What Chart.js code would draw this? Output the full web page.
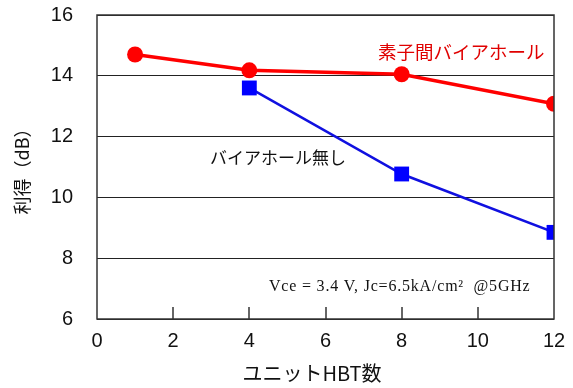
<!DOCTYPE html>
<html><head><meta charset="utf-8">
<script src="https://cdn.jsdelivr.net/npm/chart.js@4"></script>
<style>html,body{margin:0;padding:0;background:#fff}#wrap{width:573px;height:388px}</style>
</head><body><div id="wrap"><canvas id="c" width="573" height="388"></canvas></div>
<script>
const unitCounts = [1, 4, 8, 12];
const viaHoleGain = [14.7, 14.18, 14.05, 13.08];
const noViaUnits = [4, 8, 12];
const noViaGain = [13.6, 10.77, 8.85];
const xTicks = [0, 2, 4, 6, 8, 10, 12];
const yTicks = [6, 8, 10, 12, 14, 16];
const labelVia = '素子間バイアホール';
const labelNoVia = 'バイアホール無し';
const noteText = 'Vce = 3.4 V, Jc=6.5kA/cm²  @5GHz';
const xTitle = 'ユニットHBT数';
const yTitle = '利得（dB）';

const jpFont = '"Noto Sans CJK JP", "Liberation Sans", sans-serif';
const numFont = '"Liberation Sans", Arial, sans-serif';

const overlay = {
  id: 'overlay',
  afterDatasetsDraw(chart) {
    const {ctx, chartArea: a, scales: {x}} = chart;
    ctx.save();
    ctx.strokeStyle = '#333';
    ctx.lineWidth = 1.5;
    ctx.strokeRect(a.left, a.top, a.right - a.left, a.bottom - a.top);
    xTicks.forEach(v => {
      if (v === xTicks[0] || v === xTicks[xTicks.length - 1]) return;
      const px = Math.round(x.getPixelForValue(v));
      ctx.beginPath(); ctx.moveTo(px, a.bottom); ctx.lineTo(px, a.bottom - 12); ctx.stroke();
    });
    ctx.textBaseline = 'middle';
    ctx.textAlign = 'left';
    ctx.fillStyle = '#e00000';
    ctx.font = '18.5px ' + jpFont;
    ctx.fillText(labelVia, 378, 52);
    ctx.fillStyle = '#111';
    ctx.font = '17px ' + jpFont;
    ctx.fillText(labelNoVia, 210, 158);
    ctx.font = '16px "Liberation Serif", "Times New Roman", serif';
    ctx.letterSpacing = '0.8px';
    ctx.fillText(noteText, 269, 287);
    ctx.letterSpacing = '0px';
    ctx.textAlign = 'center';
    ctx.font = '20px ' + jpFont;
    ctx.fillText(xTitle, 312, 373);
    ctx.restore();
  }
};

new Chart(document.getElementById('c'), {
  type: 'scatter',
  data: {
    datasets: [
      {
        label: labelVia,
        data: unitCounts.map((u, i) => ({x: u, y: viaHoleGain[i]})),
        showLine: true,
        borderColor: '#ff0000',
        backgroundColor: '#ff0000',
        borderWidth: 3.5,
        pointStyle: 'circle',
        pointRadius: 8,
        pointBorderWidth: 0,
        pointHoverRadius: 8
      },
      {
        label: labelNoVia,
        data: noViaUnits.map((u, i) => ({x: u, y: noViaGain[i]})),
        showLine: true,
        borderColor: '#1010e0',
        backgroundColor: '#0000ff',
        borderWidth: 2.5,
        pointStyle: 'rect',
        pointRadius: 10.5,
        pointBorderWidth: 0,
        pointHoverRadius: 10.5
      }
    ]
  },
  options: {
    responsive: false,
    animation: false,
    devicePixelRatio: 1,
    layout: {padding: {left: 0, top: 15, right: 19, bottom: 0}},
    plugins: {legend: {display: false}, tooltip: {enabled: false}},
    scales: {
      x: {
        type: 'linear', min: 0, max: 12,
        afterBuildTicks: s => { s.ticks = xTicks.map(v => ({value: v})); },
        afterFit: s => { s.height = 69; s.paddingLeft = 0; s.paddingRight = 0; },
        grid: {display: false, drawTicks: false},
        border: {display: false},
        ticks: {color: '#111', font: {family: numFont, size: 20}, padding: 10, maxRotation: 0},
        title: {display: false}
      },
      y: {
        type: 'linear', min: 6, max: 16,
        afterBuildTicks: s => { s.ticks = yTicks.map(v => ({value: v})); },
        afterFit: s => { s.width = 97; s.paddingTop = 0; s.paddingBottom = 0; },
        grid: {display: true, drawTicks: false, color: '#222', lineWidth: 1},
        border: {display: false},
        ticks: {color: '#111', font: {family: numFont, size: 20}, padding: 24},
        title: {display: true, text: yTitle, color: '#111', font: {family: jpFont, size: 18}, padding: {top: 11, bottom: 0}}
      }
    }
  },
  plugins: [overlay]
});
</script></body></html>
